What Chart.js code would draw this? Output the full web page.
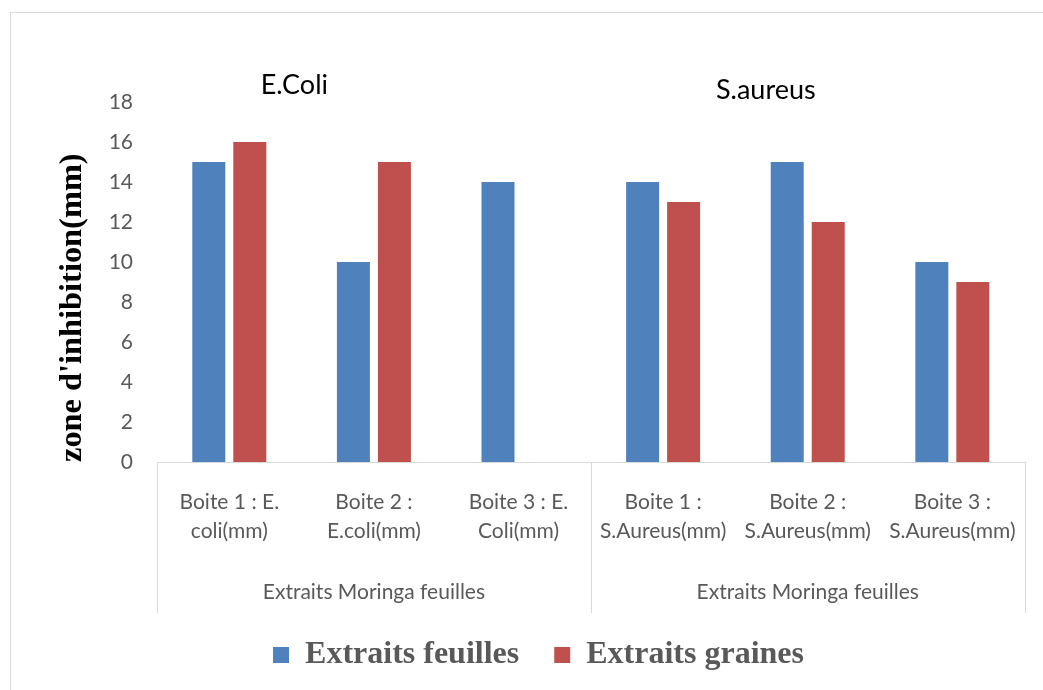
<!DOCTYPE html>
<html>
<head>
<meta charset="utf-8">
<script src="https://cdn.jsdelivr.net/npm/chart.js@4.4.0/dist/chart.umd.min.js"></script>
<style>
  html, body { margin: 0; padding: 0; background: #fff; }
  #wrap { position: relative; width: 1043px; height: 690px; overflow: hidden; }
  #frame { position: absolute; left: 10px; top: 12px; width: 1100px; height: 760px; border: 1px solid #d9d9d9; }
  #chart { position: absolute; left: 0; top: 0; }
</style>
</head>
<body>
<div id="wrap">
  <div id="frame"></div>
  <canvas id="chart" width="1043" height="690"></canvas>
</div>
<script>
// zone d'inhibition par boite

const boites = [
    ['Boite 1 : E.', 'coli(mm)'],
    ['Boite 2 :', 'E.coli(mm)'],
    ['Boite 3 : E.', 'Coli(mm)'],
    ['Boite 1 :', 'S.Aureus(mm)'],
    ['Boite 2 :', 'S.Aureus(mm)'],
    ['Boite 3 :', 'S.Aureus(mm)'],
];
const groupes = ['Extraits Moringa feuilles', 'Extraits Moringa feuilles'];
const feuilles = [15, 10, 14, 14, 15, 10];
const graines = [16, 15, null, 13, 12, 9];
const yTicks = [0, 2, 4, 6, 8, 10, 12, 14, 16, 18];

// bacteria names written over the bars: [text, category index, y value]
const souches = [
    ['E.Coli', 0.45, 18.85],
    ['S.aureus', 3.71, 18.6],
];

const tickFont = { family: 'Lato', size: 21, lineHeight: 1.38 };
const grey = '#595959';
const lineGrey = '#d9d9d9';

// group row under the category labels, with the separators
const groupAxis = {
    id: 'groupAxis',
    afterDraw(chart) {
        const { ctx, scales: { x, y } } = chart;
        const half = (x.getPixelForValue(1) - x.getPixelForValue(0)) / 2;
        const mid = x.getPixelForValue(2) + half;
        ctx.save();
        ctx.strokeStyle = lineGrey;
        ctx.lineWidth = 1;
        [x.left, mid, x.right].forEach(px => {
            ctx.beginPath();
            ctx.moveTo(Math.round(px) + 0.5, x.top);
            ctx.lineTo(Math.round(px) + 0.5, x.top + 151);
            ctx.stroke();
        });
        ctx.fillStyle = grey;
        ctx.font = tickFont.size + 'px ' + tickFont.family;
        ctx.textAlign = 'center';
        ctx.textBaseline = 'middle';
        ctx.fillText(groupes[0], (x.left + mid) / 2, x.top + 130);
        ctx.fillText(groupes[1], (mid + x.right) / 2, x.top + 130);

        ctx.fillStyle = '#000';
        ctx.font = '27px Lato';
        souches.forEach(([txt, ix, v]) => {
            ctx.fillText(txt, x.getPixelForValue(ix), y.getPixelForValue(v));
        });
        ctx.restore();
    }
};

const data = {
    labels: boites,
    datasets: [
        {
            label: 'Extraits feuilles',
            data: feuilles,
            backgroundColor: '#4F81BD',
            borderWidth: 0,
            categoryPercentage: 0.567,
            barPercentage: 0.805
        },
        {
            label: 'Extraits graines',
            data: graines,
            backgroundColor: '#C0504D',
            borderWidth: 0,
            categoryPercentage: 0.567,
            barPercentage: 0.805
        },
    ]
};

const config = {
    type: 'bar',
    data: data,
    options: {
        responsive: false,
        animation: false,
        layout: {
            padding: { top: 102, right: 18, bottom: 9, left: 52 }
        },
        plugins: {
            tooltip: { enabled: false },
            legend: {
                position: 'bottom',
                labels: {
                    boxWidth: 16,
                    boxHeight: 16,
                    padding: 35,
                    color: grey,
                    font: { family: 'Liberation Serif', size: 32, weight: 'bold' }
                }
            }
        },
        scales: {
            x: {
                grid: { display: false, drawTicks: false },
                border: { display: true, color: lineGrey, width: 1 },
                ticks: {
                    color: grey,
                    font: tickFont,
                    padding: 26,
                    maxRotation: 0,
                    autoSkip: false
                },
                afterFit(scale) { scale.height = 142; }
            },
            y: {
                min: 0,
                max: 18,
                afterBuildTicks(scale) { scale.ticks = yTicks.map(v => ({ value: v })); },
                grid: { display: false, drawTicks: false },
                border: { display: false },
                ticks: {
                    color: grey,
                    font: { family: 'Lato', size: 21 },
                    padding: 24
                },
                title: {
                    display: true,
                    text: "zone d'inhibition(mm)",
                    color: '#000',
                    align: 'start',
                    font: { family: 'Liberation Serif', size: 32.4, weight: 'bold' },
                    padding: { top: 1, bottom: 0 }
                },
                afterFit(scale) { scale.width = 105; }
            }
        }
    },
    plugins: [groupAxis]
};

const zoneChart = new Chart(document.getElementById('chart'), config);
</script>
</body>
</html>
